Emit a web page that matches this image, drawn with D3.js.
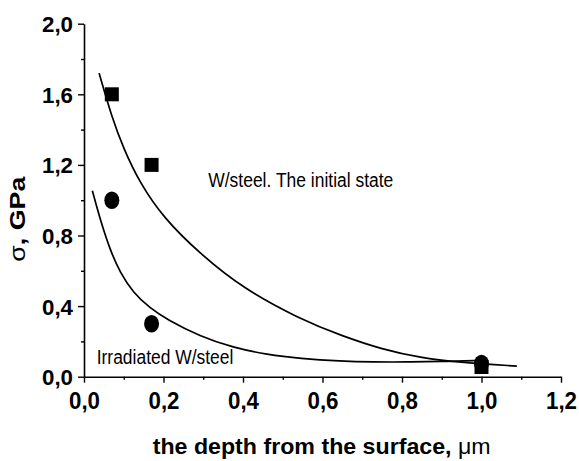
<!DOCTYPE html>
<html>
<head>
<meta charset="utf-8">
<script src="https://cdn.jsdelivr.net/npm/d3@7"></script>
<style>
  html, body { margin: 0; padding: 0; background: #fff; }
  svg { display: block; }
  text { font-family: "Liberation Sans", Arial, Helvetica, sans-serif; fill: #000; }
</style>
</head>
<body>
<svg id="chart" width="579" height="461"></svg>
<script>
// ---- data ----
const xTickValues = [0, 0.2, 0.4, 0.6, 0.8, 1.0, 1.2];
const xTickLabels = ["0,0", "0,2", "0,4", "0,6", "0,8", "1,0", "1,2"];
const xMinorTicks = [0.1, 0.3, 0.5, 0.7, 0.9, 1.1];
const yTickValues = [0, 0.4, 0.8, 1.2, 1.6, 2.0];
const yTickLabels = ["0,0", "0,4", "0,8", "1,2", "1,6", "2,0"];
const yMinorTicks = [0.2, 0.6, 1.0, 1.4, 1.8];

// measured points
const initialX = [0.07, 0.17, 1.0];
const initialY = [1.6, 1.2, 0.055];
const irradiatedX = [0.07, 0.17, 1.0];
const irradiatedY = [1.0, 0.3, 0.075];

// fitted curves
const initialCurveX = [0.038, 0.07, 0.10, 0.14, 0.20, 0.29, 0.40, 0.54, 0.65, 0.75, 0.85, 0.95, 1.089];
const initialCurveY = [1.72, 1.47, 1.29, 1.10, 0.90, 0.70, 0.50, 0.33, 0.23, 0.155, 0.105, 0.08, 0.06];
const irradCurveX = [0.021, 0.042, 0.067, 0.091, 0.123, 0.166, 0.209, 0.292, 0.375, 0.461, 0.544, 0.645, 0.728, 0.813, 0.896, 0.997];
const irradCurveY = [1.054, 0.880, 0.710, 0.590, 0.478, 0.388, 0.324, 0.228, 0.165, 0.125, 0.103, 0.088, 0.083, 0.083, 0.086, 0.092];

const xTitle = "the depth from the surface, ";
const xTitleUnit = "\u03BCm";
const yTitleSym = "\u03C3";
const yTitleRest = ", GPa";
const labelInitial = "W/steel. The initial state";
const labelIrrad = "Irradiated W/steel";

// ---- drawing ----
const svg = d3.select("#chart");
const x = d3.scaleLinear().domain([0, 1.2]).range([84, 561]);
const y = d3.scaleLinear().domain([0, 2.0]).range([376.7, 23.7]);

const axisColor = "#000";

// x axis major
const gx = svg.append("g").attr("transform", `translate(0,${y(0)})`)
  .call(d3.axisBottom(x).tickValues(xTickValues).tickSize(6).tickSizeOuter(0)
    .tickFormat((d, i) => xTickLabels[i]));
gx.select(".domain").attr("stroke", axisColor).attr("stroke-width", 1.6);
gx.selectAll(".tick line").attr("stroke", axisColor).attr("stroke-width", 1.4);
gx.selectAll(".tick text")
  .attr("y", 32).attr("dy", 0)
  .style("font-size", "24px").style("font-weight", "bold")
  .attr("textLength", 31).attr("lengthAdjust", "spacingAndGlyphs");
// x axis minor
const gxm = svg.append("g").attr("transform", `translate(0,${y(0)})`)
  .call(d3.axisBottom(x).tickValues(xMinorTicks).tickSize(3).tickSizeOuter(0).tickFormat(""));
gxm.select(".domain").remove();
gxm.selectAll(".tick line").attr("stroke", axisColor).attr("stroke-width", 1.4);

// y axis major
const gy = svg.append("g").attr("transform", `translate(${x(0)},0)`)
  .call(d3.axisLeft(y).tickValues(yTickValues).tickSize(6).tickSizeOuter(0)
    .tickFormat((d, i) => yTickLabels[i]));
gy.select(".domain").attr("stroke", axisColor).attr("stroke-width", 1.6);
gy.selectAll(".tick line").attr("stroke", axisColor).attr("stroke-width", 1.4);
gy.selectAll(".tick text")
  .attr("x", -11).attr("dy", 8)
  .style("font-size", "22.5px").style("font-weight", "bold")
  .attr("textLength", 31).attr("lengthAdjust", "spacingAndGlyphs");
// y axis minor
const gym = svg.append("g").attr("transform", `translate(${x(0)},0)`)
  .call(d3.axisLeft(y).tickValues(yMinorTicks).tickSize(3).tickSizeOuter(0).tickFormat(""));
gym.select(".domain").remove();
gym.selectAll(".tick line").attr("stroke", axisColor).attr("stroke-width", 1.4);

// curves
const line = d3.line().x(d => x(d[0])).y(d => y(d[1])).curve(d3.curveBasis);
const initialCurve = initialCurveX.map((v, i) => [v, initialCurveY[i]]);
const irradCurve = irradCurveX.map((v, i) => [v, irradCurveY[i]]);
svg.append("path").datum(initialCurve).attr("d", line)
  .attr("fill", "none").attr("stroke", "#000").attr("stroke-width", 1.7);
svg.append("path").datum(irradCurve).attr("d", line)
  .attr("fill", "none").attr("stroke", "#000").attr("stroke-width", 1.7);

// markers
const sq = 14;
svg.append("g").selectAll("rect")
  .data(initialX.map((v, i) => [v, initialY[i]]))
  .join("rect")
  .attr("x", d => x(d[0]) - sq / 2).attr("y", d => y(d[1]) - sq / 2)
  .attr("width", sq).attr("height", sq).attr("fill", "#000");
svg.append("g").selectAll("ellipse")
  .data(irradiatedX.map((v, i) => [v, irradiatedY[i]]))
  .join("ellipse")
  .attr("cx", d => x(d[0])).attr("cy", d => y(d[1]))
  .attr("rx", 7.5).attr("ry", 8.8).attr("fill", "#000");

// annotations
svg.append("text").attr("x", 208.3).attr("y", 186.7)
  .style("font-size", "19.5px")
  .attr("textLength", 185).attr("lengthAdjust", "spacingAndGlyphs")
  .text(labelInitial);
svg.append("text").attr("x", 96.7).attr("y", 364)
  .style("font-size", "19.5px")
  .attr("textLength", 136.7).attr("lengthAdjust", "spacingAndGlyphs")
  .text(labelIrrad);

// axis titles
const xt = svg.append("text").attr("x", 152.7).attr("y", 454)
  .style("font-size", "22px").style("font-weight", "bold")
  .attr("textLength", 338).attr("lengthAdjust", "spacingAndGlyphs");
xt.append("tspan").text(xTitle);
xt.append("tspan").style("font-weight", "normal").text(xTitleUnit);

const yt = svg.append("text")
  .attr("transform", "translate(25,261.7) rotate(-90)")
  .attr("x", 0).attr("y", 0)
  .style("font-size", "22px").style("font-weight", "bold")
  .attr("textLength", 85).attr("lengthAdjust", "spacingAndGlyphs");
yt.append("tspan").style("font-weight", "normal").text(yTitleSym);
yt.append("tspan").text(yTitleRest);
</script>
</body>
</html>
